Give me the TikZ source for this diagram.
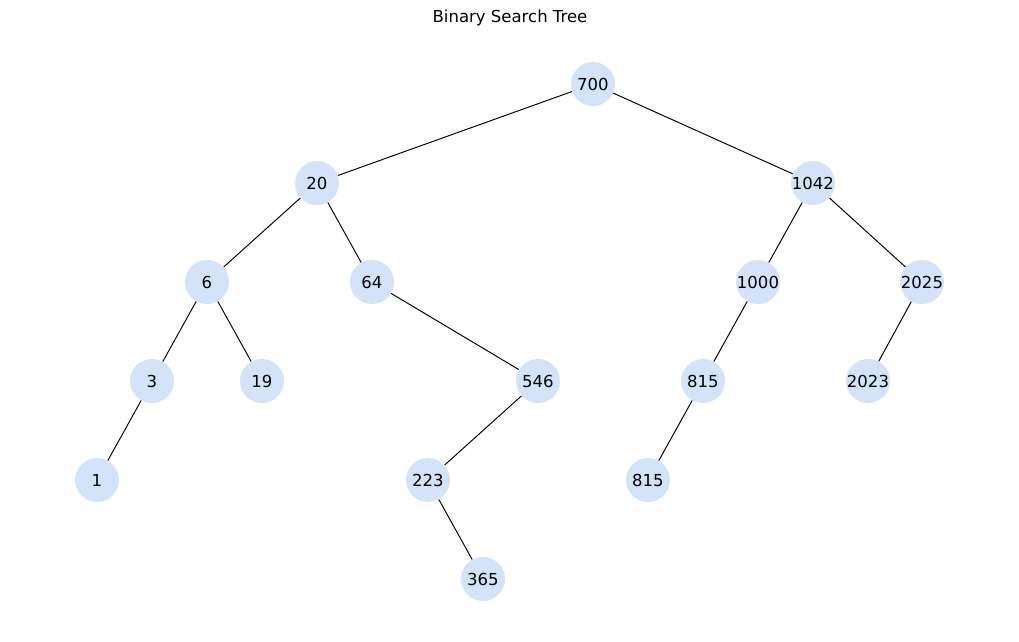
\documentclass[tikz,border=0pt]{standalone}
\usepackage{fontspec}
\setmainfont{DejaVu Sans}
\usetikzlibrary{positioning}
\definecolor{nodeblue}{HTML}{D2E3FA}
\tikzset{
  key/.style  = {circle, fill=nodeblue, inner sep=0pt, minimum size=0.88cm,
                 font=\fontsize{9.4}{11}\selectfont},
  edge/.style = {line width=0.55pt, black},
  ttl/.style  = {font=\fontsize{9.4}{11}\selectfont, inner sep=0pt},
}

\begin{document}
\begin{tikzpicture}[x=0.02cm, y=-0.02cm]
  \useasboundingbox (0,0) rectangle (1019,642);
  \node[ttl] (title) at (510,18) {Binary Search Tree};
  % keys, one row per depth
  \node[key] (n700)  at (593,84)  {700};
  \node[key] (n20)   at (317,183) {20};
  \node[key] (n1042) at (813,183) {1042};
  \node[key] (n6)    at (207,282) {6};
  \node[key] (n64)   at (372,282) {64};
  \node[key] (n1000) at (758,282) {1000};
  \node[key] (n2025) at (922,282) {2025};
  \node[key] (n3)    at (152,381) {3};
  \node[key] (n19)   at (262,381) {19};
  \node[key] (n546)  at (538,381) {546};
  \node[key] (n815a) at (703,381) {815};
  \node[key] (n2023) at (868,381) {2023};
  \node[key] (n1)    at (97,480)  {1};
  \node[key] (n223)  at (428,480) {223};
  \node[key] (n815b) at (648,480) {815};
  \node[key] (n365)  at (483,579) {365};
  % parent -- child
  \draw[edge] (n700) -- (n20);
  \draw[edge] (n700) -- (n1042);
  \draw[edge] (n20) -- (n6);
  \draw[edge] (n20) -- (n64);
  \draw[edge] (n1042) -- (n1000);
  \draw[edge] (n1042) -- (n2025);
  \draw[edge] (n6) -- (n3);
  \draw[edge] (n6) -- (n19);
  \draw[edge] (n64) -- (n546);
  \draw[edge] (n1000) -- (n815a);
  \draw[edge] (n2025) -- (n2023);
  \draw[edge] (n3) -- (n1);
  \draw[edge] (n546) -- (n223);
  \draw[edge] (n815a) -- (n815b);
  \draw[edge] (n223) -- (n365);
\end{tikzpicture}
\end{document}
